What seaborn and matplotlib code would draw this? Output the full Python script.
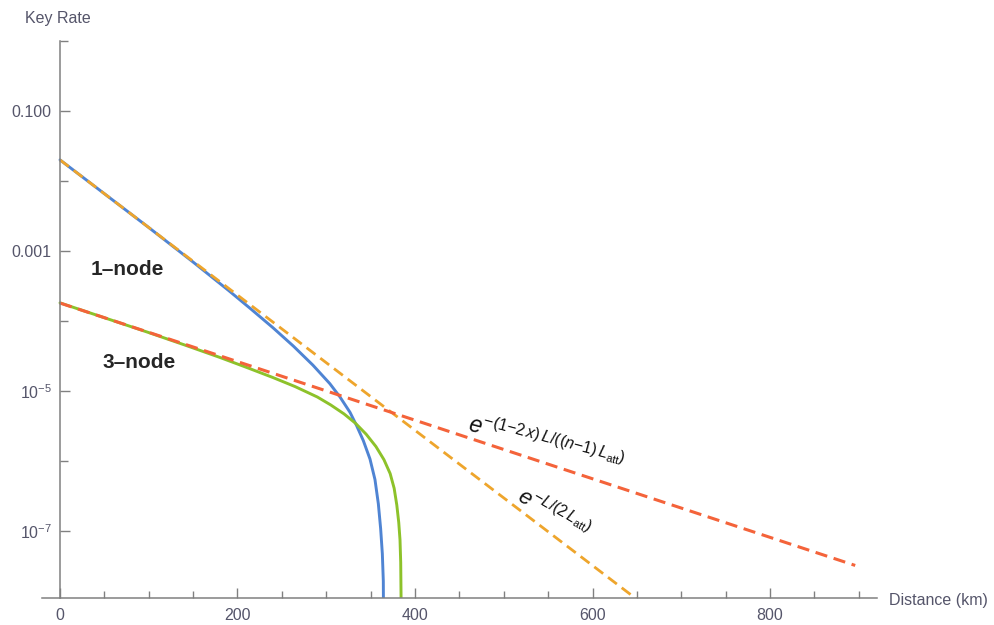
import numpy as np
import pandas as pd
import matplotlib
matplotlib.use("Agg")
import matplotlib.pyplot as plt
from matplotlib.ticker import FixedLocator, FixedFormatter
import seaborn as sns

# Distance (km) and key rate for the 1-node protocol
dist_1node = [0, 100, 150, 190, 214, 240, 263, 285, 304, 315.5, 326.8, 334.3, 341.8,
              349.3, 354.9, 358.7, 361.3, 363.2, 364.3, 364.8]
rate_1node = [2.0e-2, 2.16e-3, 6.93e-4, 2.72e-4, 1.52e-4, 7.98e-5, 4.36e-5, 2.33e-5,
              1.27e-5, 8.17e-6, 4.93e-6, 3.17e-6, 1.94e-6, 1.06e-6, 5.40e-7, 2.43e-7,
              1.07e-7, 4.70e-8, 1.91e-8, 1e-9]

# Distance (km) and key rate for the 3-node protocol
dist_3node = [0, 100, 140, 180, 210, 240, 265, 290, 305, 320, 333, 345, 356, 365, 372,
              376.5, 379.5, 381.7, 383.1, 383.9, 384.3, 384.8]
rate_3node = [1.81e-4, 6.81e-5, 4.55e-5, 3.01e-5, 2.17e-5, 1.55e-5, 1.15e-5, 8.17e-6,
              6.30e-6, 4.69e-6, 3.44e-6, 2.40e-6, 1.60e-6, 1.04e-6, 6.58e-7, 4.06e-7,
              2.33e-7, 1.31e-7, 7.45e-8, 3.53e-8, 1.11e-8, 1e-9]

# Exponential attenuation bounds (straight lines on a log axis)
dist_bound_1 = [0, 650]
rate_bound_1 = [2.0e-2, 1.05e-8]
dist_bound_3 = [0, 896]
rate_bound_3 = [1.8e-4, 3.2e-8]

x_major = [0, 200, 400, 600, 800]
x_minor = [50, 100, 150, 250, 300, 350, 450, 500, 550, 650, 700, 750, 850, 900]
y_major = [1e-1, 1e-3, 1e-5, 1e-7]
y_major_labels = ["0.100", "0.001", r"$10^{-5}$", r"$10^{-7}$"]
y_minor = [1.0, 1e-2, 1e-4, 1e-6]

sns.set_theme(style="white")
plt.rcParams["font.family"] = ["Liberation Sans", "DejaVu Sans"]
plt.rcParams["mathtext.fontset"] = "custom"
plt.rcParams["mathtext.rm"] = "Liberation Sans"
plt.rcParams["mathtext.it"] = "Liberation Sans:italic"
plt.rcParams["mathtext.bf"] = "Liberation Sans:bold"

BLUE = "#4F84D3"
ORANGE = "#EEA52C"
GREEN = "#8DC22A"
RED = "#F4633A"
AXIS = "#808080"
TICKTXT = "#55556A"

fig = plt.figure(figsize=(9.94, 6.25), dpi=100)
ax = fig.add_axes([0.0425, 0.0432, 0.8393, 0.8912])

df1 = pd.DataFrame({"d": dist_1node, "r": rate_1node})
df3 = pd.DataFrame({"d": dist_3node, "r": rate_3node})
db1 = pd.DataFrame({"d": dist_bound_1, "r": rate_bound_1})
db3 = pd.DataFrame({"d": dist_bound_3, "r": rate_bound_3})

sns.lineplot(data=df1, x="d", y="r", ax=ax, color=BLUE, lw=2.1, sort=False, estimator=None)
sns.lineplot(data=df3, x="d", y="r", ax=ax, color=GREEN, lw=2.1, sort=False, estimator=None)
sns.lineplot(data=db1, x="d", y="r", ax=ax, color=ORANGE, lw=2.0, sort=False, estimator=None,
             linestyle=(0, (4, 2.2)))
sns.lineplot(data=db3, x="d", y="r", ax=ax, color=RED, lw=2.2, sort=False, estimator=None,
             linestyle=(0, (4, 2.2)))

ax.set_yscale("log")
ax.set_xlim(-20, 920)
ax.set_ylim(10 ** -7.96, 1.0)
ax.set_xlabel("")
ax.set_ylabel("")

for s in ["top", "right"]:
    ax.spines[s].set_visible(False)
ax.spines["left"].set_position(("data", 0))
for s in ["left", "bottom"]:
    ax.spines[s].set_color(AXIS)
    ax.spines[s].set_linewidth(1.1)

ax.xaxis.set_major_locator(FixedLocator(x_major))
ax.xaxis.set_minor_locator(FixedLocator(x_minor))
ax.yaxis.set_major_locator(FixedLocator(y_major))
ax.yaxis.set_major_formatter(FixedFormatter(y_major_labels))
ax.yaxis.set_minor_locator(FixedLocator(y_minor))
ax.yaxis.set_minor_formatter(FixedFormatter([""] * len(y_minor)))

ax.tick_params(axis="both", which="both", direction="in", color=AXIS, width=1.0,
               labelsize=11.5, labelcolor=TICKTXT)
ax.tick_params(axis="x", which="major", length=7, pad=7)
ax.tick_params(axis="x", which="minor", length=5)
ax.tick_params(axis="y", which="major", length=7, pad=6)
ax.tick_params(axis="y", which="minor", length=6)
ax.tick_params(axis="both", which="both", bottom=True, left=True)

ax.text(34, 10 ** -3.27, "1\u2013node", fontsize=15, fontweight="bold", ha="left", va="center")
ax.text(48, 10 ** -4.60, "3\u2013node", fontsize=15, fontweight="bold", ha="left", va="center")

ax.text(458, 10 ** -5.57, r"$e^{-(1{-}2\,x)\,L/((n{-}1)\,L_{\mathrm{att}})}$", fontsize=16.5,
        rotation=-15, ha="left", va="baseline", rotation_mode="anchor", color="#111111")
ax.text(513, 10 ** -6.57, r"$e^{-L/(2\,L_{\mathrm{att}})}$", fontsize=16,
        rotation=-30, ha="left", va="baseline", rotation_mode="anchor", color="#111111")

fig.text(25 / 994, 1 - 18 / 625, "Key Rate", fontsize=11.5, color=TICKTXT, ha="left", va="center")
fig.text(889 / 994, 1 - 600 / 625, "Distance (km)", fontsize=11.5, color=TICKTXT,
         ha="left", va="center")

fig.savefig("out.png", dpi=100)
